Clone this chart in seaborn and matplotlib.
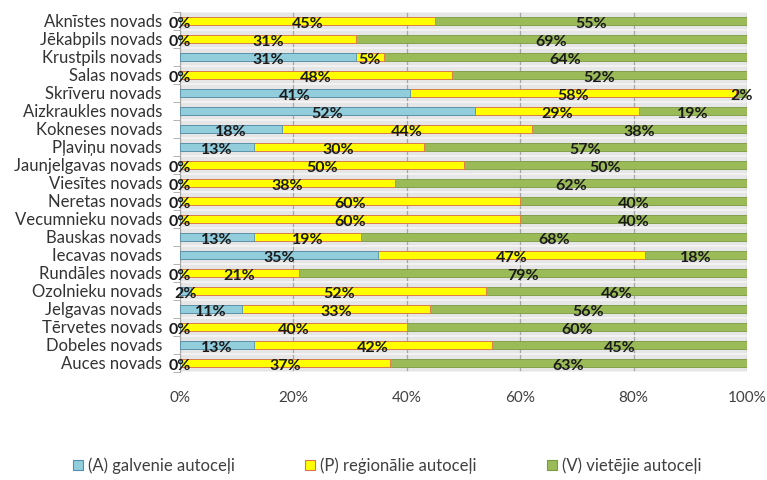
import numpy as np
import pandas as pd
import matplotlib
matplotlib.use("Agg")
import matplotlib.pyplot as plt
import seaborn as sns

# Data (shares in %, as printed on the chart)
novadi = ["Aknīstes novads", "Jēkabpils novads", "Krustpils novads", "Salas novads",
          "Skrīveru novads", "Aizkraukles novads", "Kokneses novads", "Pļaviņu novads",
          "Jaunjelgavas novads", "Viesītes novads", "Neretas novads", "Vecumnieku novads",
          "Bauskas novads", "Iecavas novads", "Rundāles novads", "Ozolnieku novads",
          "Jelgavas novads", "Tērvetes novads", "Dobeles novads", "Auces novads"]
galvenie = [0, 0, 31, 0, 41, 52, 18, 13, 0, 0, 0, 0, 13, 35, 0, 2, 11, 0, 13, 0]
regionalie = [45, 31, 5, 48, 58, 29, 44, 30, 50, 38, 60, 60, 19, 47, 21, 52, 33, 40, 42, 37]
vietejie = [55, 69, 64, 52, 2, 19, 38, 57, 50, 62, 40, 40, 68, 18, 79, 46, 56, 60, 45, 63]

series_names = ["(A) galvenie autoceļi", "(P) reģionālie autoceļi", "(V) vietējie autoceļi"]
colors = ["#92CDDC", "#FFFF00", "#9BBB59"]
edges = ["#4F8FB0", "#E07050", "#7A9A40"]

df = pd.DataFrame({"novads": novadi, "A": galvenie, "P": regionalie, "V": vietejie})
tot = df[["A", "P", "V"]].sum(axis=1)
# 100% stacked: normalise each row
df["A_n"] = df["A"] / tot * 100
df["P_n"] = df["P"] / tot * 100
df["V_n"] = df["V"] / tot * 100
df["cum_A"] = df["A_n"]
df["cum_P"] = df["A_n"] + df["P_n"]
df["cum_V"] = df["cum_P"] + df["V_n"]

plt.rcParams["font.family"] = ["Lato", "DejaVu Sans"]

fig = plt.figure(figsize=(7.67, 4.8), dpi=100)
ax = fig.add_axes([0.2347, 0.225, 0.7393, 0.75])
ax.set_facecolor("#E6E6E6")

# draw from the longest stack down so the shorter ones sit on top
for col, c, e in [("cum_V", colors[2], edges[2]), ("cum_P", colors[1], edges[1]),
                  ("cum_A", colors[0], edges[0])]:
    sns.barplot(data=df, x=col, y="novads", orient="h", color=c, edgecolor=e,
                linewidth=0.6, width=0.48, saturation=1, ax=ax, zorder=3)

# data labels at segment centres
for i, row in df.iterrows():
    for val, cen in [(row["A"], row["A_n"] / 2),
                     (row["P"], row["A_n"] + row["P_n"] / 2),
                     (row["V"], row["cum_P"] + row["V_n"] / 2)]:
        ax.text(cen, i + 0.17, f"{val}%", ha="center", va="center",
                fontsize=11.5, fontweight="bold", color="#1a1a1a", zorder=5)

ax.set_xlim(0, 100)
ax.set_ylim(len(novadi) - 0.5, -0.5)
ax.set_xticks(np.arange(0, 101, 20))
ax.set_xticklabels([f"{t}%" for t in range(0, 101, 20)])
ax.xaxis.grid(True, color="#A6A6A6", linewidth=0.9, zorder=1)
ax.set_axisbelow(True)
# light separators between category rows
for k in np.arange(-0.5, len(novadi), 1):
    ax.axhline(k, color="#F5F5F5", linewidth=1.2, zorder=1)

ax.set_xlabel("")
ax.set_ylabel("")
ax.tick_params(axis="x", length=0, labelsize=11, labelcolor="#404040", pad=14)
ax.tick_params(axis="y", length=0, labelsize=12, labelcolor="#333333", pad=13)
ax.set_yticks(np.arange(-0.5, len(novadi), 1), minor=True)
ax.tick_params(axis="y", which="minor", length=5, color="#A6A6A6")
for s in ["top", "right", "bottom"]:
    ax.spines[s].set_visible(False)
ax.spines["left"].set_color("#A6A6A6")

handles = [plt.Rectangle((0, 0), 1, 1, facecolor=c, edgecolor=e, linewidth=0.8)
           for c, e in zip(colors, edges)]
fig.legend(handles, series_names, loc="center", bbox_to_anchor=(0.505, 0.03), ncol=3,
           frameon=False, fontsize=12, handlelength=0.6, handleheight=0.6,
           handletextpad=0.3, columnspacing=4.2, labelcolor="#404040")

fig.savefig("out.png", dpi=100)
